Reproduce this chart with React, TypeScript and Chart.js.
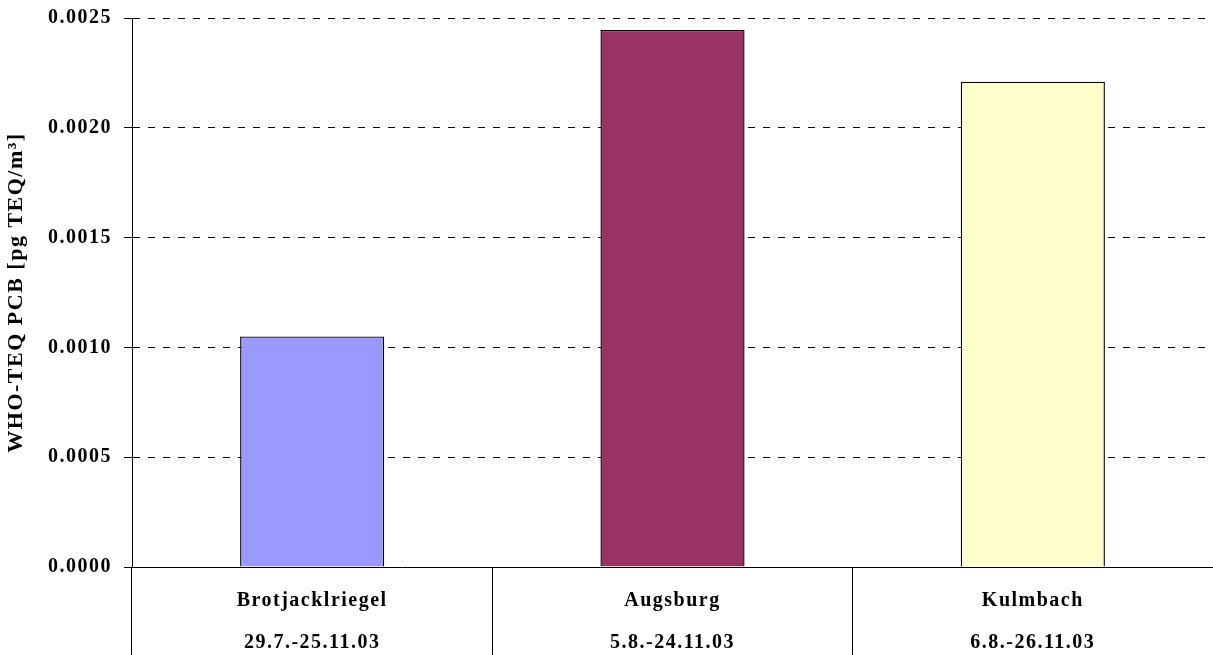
import React, { useEffect, useRef } from "react";
import { Chart, registerables } from "chart.js";

Chart.register(...registerables);

const sites = ["Brotjacklriegel", "Augsburg", "Kulmbach"];
const periods = ["29.7.-25.11.03", "5.8.-24.11.03", "6.8.-26.11.03"];
const teqValues = [0.00105, 0.002445, 0.00221];
const barColors = ["#9999FF", "#993366", "#FFFFCC"];
const yTitle = "WHO-TEQ PCB [pg TEQ/m³]";
const yMin = 0;
const yMax = 0.0025;
const yStep = 0.0005;

const FONT = "'Liberation Serif', 'Times New Roman', serif";

const spacingPlugin = {
  id: "letterSpacing",
  beforeDraw(chart: any) {
    (chart.ctx as any).letterSpacing = "1.5px";
  },
  afterDraw(chart: any) {
    (chart.ctx as any).letterSpacing = "0px";
  },
};

export default function App() {
  const ref = useRef<HTMLCanvasElement | null>(null);

  useEffect(() => {
    if (!ref.current) return;
    const chart = new Chart(ref.current, {
      type: "bar",
      data: {
        labels: sites.map((s, i) => [s, periods[i]]),
        datasets: [
          {
            data: teqValues,
            backgroundColor: barColors,
            borderColor: "#000000",
            borderWidth: 1.4,
            categoryPercentage: 1,
            barPercentage: 0.4,
          },
        ],
      },
      options: {
        animation: false,
        responsive: true,
        maintainAspectRatio: false,
        layout: { padding: { top: 18, left: 0, right: 0, bottom: 0 } },
        plugins: {
          legend: { display: false },
          tooltip: { enabled: false },
        },
        scales: {
          x: {
            offset: true,
            grid: {
              display: true,
              offset: true,
              drawOnChartArea: false,
              drawTicks: true,
              tickLength: 88,
              color: "#000000",
              lineWidth: 1,
            },
            border: { display: true, color: "#000000", width: 1 },
            ticks: {
              padding: -75,
              color: "#000000",
              maxRotation: 0,
              autoSkip: false,
              font: { family: FONT, size: 20, weight: "bold", lineHeight: 2.1 },
            },
            afterFit(scale: any) {
              scale.height = 88;
            },
          },
          y: {
            min: yMin,
            max: yMax,
            grid: {
              color: "#000000",
              lineWidth: 1,
              tickLength: 8,
              tickColor: "#000000",
              tickBorderDash: [],
            },
            border: { display: true, color: "#000000", width: 1, dash: [7, 8] },
            ticks: {
              stepSize: yStep,
              padding: 12,
              color: "#000000",
              font: { family: FONT, size: 20, weight: "bold", lineHeight: 0.6 },
              callback: (v: any) => Number(v).toFixed(4),
            },
            title: {
              display: true,
              text: yTitle,
              color: "#000000",
              padding: { top: 3, bottom: 0 },
              font: { family: FONT, size: 22, weight: "bold" },
            },
            afterFit(scale: any) {
              scale.width = 132;
            },
          },
        },
      },
      plugins: [spacingPlugin],
    } as any);
    return () => chart.destroy();
  }, []);

  return (
    <div style={{ position: "absolute", left: 0, top: 0, width: 1213, height: 655, background: "#fff" }}>
      <canvas ref={ref} />
    </div>
  );
}
